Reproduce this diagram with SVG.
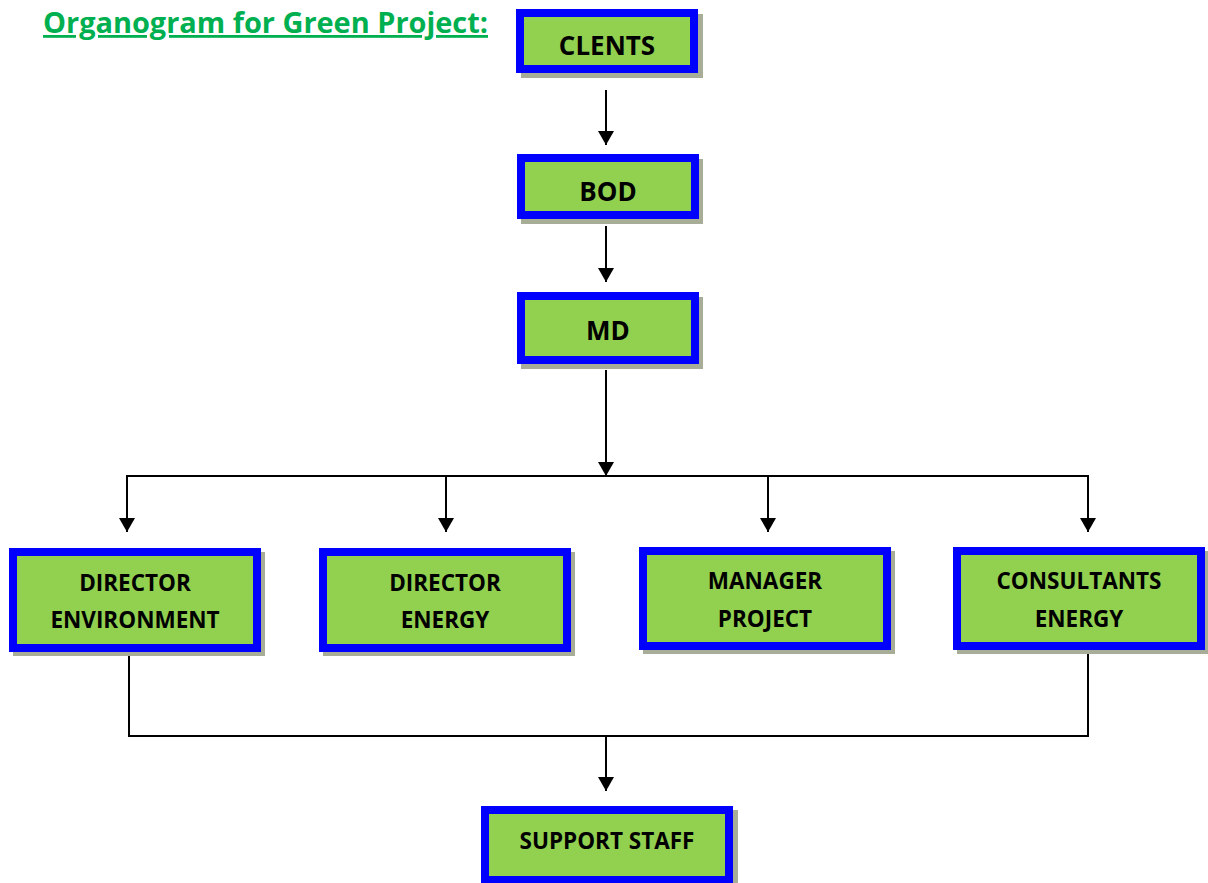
<svg xmlns="http://www.w3.org/2000/svg" width="1208" height="883" viewBox="0 0 1208 883">
<style>
.box{fill:#92d050;stroke:#0000ff;stroke-width:8}
.sh{fill:#a8ad98}
.t{font-family:"Open Sans","Liberation Sans",sans-serif;font-weight:bold;fill:#000;text-anchor:middle}
.big{font-size:26px}
.sm{font-size:22.5px}
.ln{stroke:#000;stroke-width:2;fill:none}
</style>
<defs>
<marker id="ah" markerWidth="16" markerHeight="16" refX="14" refY="8" orient="auto" markerUnits="userSpaceOnUse">
<path d="M0,0 L14,8 L0,16 Z" fill="#000"/>
</marker>
</defs>
<rect width="1208" height="883" fill="#fff"/>
<text x="43" y="33" font-family="'Open Sans','Liberation Sans',sans-serif" font-weight="bold" font-size="28" fill="#00b050" text-decoration="underline" textLength="445" lengthAdjust="spacingAndGlyphs">Organogram for Green Project:</text>
<g id="connectors">
<line class="ln" x1="606" y1="90" x2="606" y2="145" marker-end="url(#ah)"/>
<line class="ln" x1="606" y1="226" x2="606" y2="282" marker-end="url(#ah)"/>
<line class="ln" x1="606" y1="370" x2="606" y2="476" marker-end="url(#ah)"/>
<line class="ln" x1="126" y1="476" x2="1089" y2="476"/>
<line class="ln" x1="127" y1="476" x2="127" y2="532" marker-end="url(#ah)"/>
<line class="ln" x1="446" y1="476" x2="446" y2="532" marker-end="url(#ah)"/>
<line class="ln" x1="768" y1="476" x2="768" y2="532" marker-end="url(#ah)"/>
<line class="ln" x1="1088" y1="476" x2="1088" y2="532" marker-end="url(#ah)"/>
<line class="ln" x1="129" y1="652" x2="129" y2="736"/>
<line class="ln" x1="1088" y1="652" x2="1088" y2="736"/>
<line class="ln" x1="128" y1="736" x2="1089" y2="736"/>
<line class="ln" x1="606" y1="736" x2="606" y2="791" marker-end="url(#ah)"/>
</g>
<g id="clents">
<rect class="sh" x="521" y="14" width="182" height="64"/>
<rect class="box" x="520" y="13" width="174" height="56"/>
<text class="t big" x="607" y="55">CLENTS</text>
</g>
<g id="bod">
<rect class="sh" x="521" y="159" width="182" height="65"/>
<rect class="box" x="521" y="158" width="174" height="57"/>
<text class="t big" x="608" y="201">BOD</text>
</g>
<g id="md">
<rect class="sh" x="521" y="297" width="182" height="72"/>
<rect class="box" x="521" y="296" width="174" height="64"/>
<text class="t big" x="608" y="340">MD</text>
</g>
<g id="director-environment">
<rect class="sh" x="13" y="552" width="252" height="104"/>
<rect class="box" x="13" y="552" width="244" height="96"/>
<text class="t sm" x="135" y="591">DIRECTOR</text>
<text class="t sm" x="135" y="628">ENVIRONMENT</text>
</g>
<g id="director-energy">
<rect class="sh" x="323" y="552" width="252" height="104"/>
<rect class="box" x="323" y="552" width="244" height="96"/>
<text class="t sm" x="445" y="591">DIRECTOR</text>
<text class="t sm" x="445" y="628">ENERGY</text>
</g>
<g id="manager-project">
<rect class="sh" x="643" y="551" width="252" height="103"/>
<rect class="box" x="643" y="551" width="244" height="95"/>
<text class="t sm" x="765" y="589">MANAGER</text>
<text class="t sm" x="765" y="627">PROJECT</text>
</g>
<g id="consultants-energy">
<rect class="sh" x="957" y="551" width="252" height="103"/>
<rect class="box" x="957" y="551" width="244" height="95"/>
<text class="t sm" x="1079" y="589">CONSULTANTS</text>
<text class="t sm" x="1079" y="627">ENERGY</text>
</g>
<g id="support-staff">
<rect class="sh" x="485" y="810" width="253" height="73"/>
<rect class="box" x="485" y="810" width="244" height="70"/>
<text class="t sm" x="607" y="849">SUPPORT STAFF</text>
</g>
</svg>
